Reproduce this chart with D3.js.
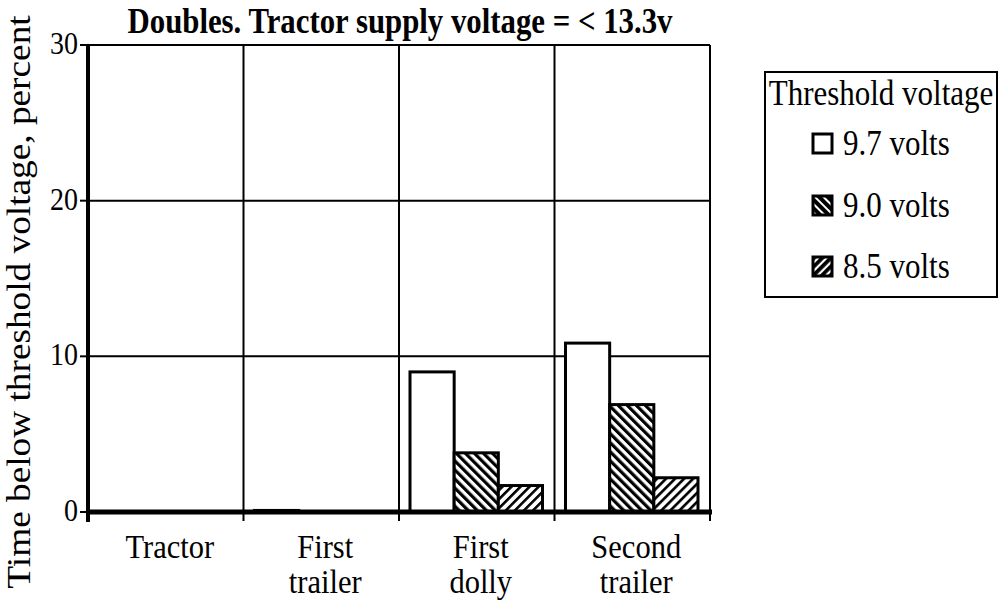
<!DOCTYPE html>
<html>
<head>
<meta charset="utf-8">
<script src="https://cdn.jsdelivr.net/npm/d3@7"></script>
<style>
  html, body { margin: 0; padding: 0; background: #fff; }
  svg { display: block; }
  text { font-family: "Liberation Serif", "Times New Roman", serif; fill: #000; }
</style>
</head>
<body>
<svg id="chart" width="1000" height="601"></svg>
<script>
// Time below threshold voltage (percent) by vehicle unit, doubles combination
const categories = ["Tractor", "First trailer", "First dolly", "Second trailer"];
const categoryLines = [["Tractor"], ["First", "trailer"], ["First", "dolly"], ["Second", "trailer"]];
const seriesNames = ["9.7 volts", "9.0 volts", "8.5 volts"];
const values97 = [0, 0.1, 9.0, 10.85];
const values90 = [0, 0, 3.8, 6.9];
const values85 = [0, 0, 1.7, 2.2];
const yTicks = [0, 10, 20, 30];
const titleText = "Doubles. Tractor supply voltage = < 13.3v";
const yTitle = "Time below threshold voltage, percent";
const legendTitle = "Threshold voltage";

const seriesValues = [values97, values90, values85];
const fills = ["#fff", "url(#hatchBack)", "url(#hatchFwd)"];
const legendFills = ["#fff", "url(#hatchBackDense)", "url(#hatchFwdDense)"];

const svg = d3.select("#chart");
const STRETCH = 1.13; // glyphs are drawn slightly taller than wide

// Hatch fills
const defs = svg.append("defs");
function hatch(id, angle, period, ink) {
  const p = defs.append("pattern")
    .attr("id", id)
    .attr("patternUnits", "userSpaceOnUse")
    .attr("width", period).attr("height", period)
    .attr("patternTransform", `rotate(${angle})`);
  p.append("rect").attr("width", period).attr("height", period).attr("fill", "#fff");
  p.append("rect").attr("x", 0).attr("y", 0).attr("width", ink).attr("height", period).attr("fill", "#000");
}
hatch("hatchBack", -45, 6.4, 3.2);
hatch("hatchFwd", 45, 6.4, 2.6);
hatch("hatchBackDense", -45, 6.0, 4.0);
hatch("hatchFwdDense", 45, 6.0, 3.8);

const plot = { left: 88, right: 710, top: 45, bottom: 512 };

const x0 = d3.scaleBand().domain(categories).range([plot.left, plot.right]).padding(0);
const x1 = d3.scaleBand().domain(seriesNames).range([11, x0.bandwidth() - 12]).padding(0);
const y = d3.scaleLinear().domain([0, 30]).range([plot.bottom, plot.top]);

// Grid: horizontal lines at tick values, vertical lines at category boundaries
const grid = svg.append("g");
grid.selectAll("line.h").data(yTicks.filter(d => d > 0)).join("line")
  .attr("x1", plot.left).attr("x2", plot.right)
  .attr("y1", d => y(d)).attr("y2", d => y(d))
  .attr("stroke", "#000").attr("stroke-width", 2);
grid.selectAll("line.v").data(categories).join("line")
  .attr("x1", d => x0(d) + x0.bandwidth()).attr("x2", d => x0(d) + x0.bandwidth())
  .attr("y1", plot.top).attr("y2", plot.bottom + 9)
  .attr("stroke", "#000").attr("stroke-width", 2);

// Bars
const rows = categories.map((c, i) => ({ cat: c, vals: seriesNames.map((s, j) => ({ s, j, v: seriesValues[j][i] })) }));
const groups = svg.append("g").selectAll("g").data(rows).join("g")
  .attr("transform", d => `translate(${x0(d.cat)},0)`);
groups.selectAll("rect").data(d => d.vals.filter(e => e.v > 0)).join("rect")
  .attr("x", d => x1(d.s))
  .attr("y", d => y(d.v))
  .attr("width", x1.bandwidth())
  .attr("height", d => y(0) - y(d.v))
  .attr("fill", d => fills[d.j])
  .attr("stroke", "#000").attr("stroke-width", 3);

// Y axis (thick) with ticks and labels
const yAxis = svg.append("g");
yAxis.append("line")
  .attr("x1", plot.left).attr("x2", plot.left)
  .attr("y1", plot.top - 1).attr("y2", plot.bottom + 10)
  .attr("stroke", "#000").attr("stroke-width", 4);
yAxis.selectAll("line.t").data(yTicks).join("line")
  .attr("x1", plot.left - 8).attr("x2", plot.left)
  .attr("y1", d => y(d)).attr("y2", d => y(d))
  .attr("stroke", "#000").attr("stroke-width", 2);
yAxis.selectAll("text").data(yTicks).join("text")
  .attr("transform", d => `translate(${plot.left - 10},${y(d) + 9}) scale(1,${STRETCH})`)
  .attr("text-anchor", "end")
  .attr("font-size", 28)
  .text(d => d);

// X axis baseline (thick)
svg.append("line")
  .attr("x1", plot.left - 2).attr("x2", plot.right + 2)
  .attr("y1", y(0)).attr("y2", y(0))
  .attr("stroke", "#000").attr("stroke-width", 5);

// Category labels
const xl = svg.append("g").selectAll("g").data(categories).join("g");
xl.each(function (c, i) {
  const g = d3.select(this);
  categoryLines[i].forEach((line, k) => {
    g.append("text")
      .attr("transform", `translate(${x0(c) + x0.bandwidth() / 2 + 4},${558 + k * 35}) scale(1,${STRETCH})`)
      .attr("text-anchor", "middle")
      .attr("font-size", 30.5)
      .text(line);
  });
});

// Title
svg.append("text")
  .attr("transform", `translate(400,33) scale(1,${STRETCH})`)
  .attr("text-anchor", "middle")
  .attr("font-size", 30.8)
  .attr("font-weight", "bold")
  .text(titleText);

// Y axis title
svg.append("text")
  .attr("transform", `translate(30,302) scale(1,${STRETCH}) rotate(-90)`)
  .attr("text-anchor", "middle")
  .attr("font-size", 33)
  .text(yTitle);

// Legend
const lg = svg.append("g");
lg.append("rect")
  .attr("x", 765).attr("y", 72).attr("width", 232).attr("height", 225)
  .attr("fill", "#fff").attr("stroke", "#000").attr("stroke-width", 2);
lg.append("text")
  .attr("transform", `translate(881,105) scale(1,${STRETCH})`)
  .attr("text-anchor", "middle")
  .attr("font-size", 31)
  .text(legendTitle);
const legendY = [134, 196, 257];
seriesNames.forEach((s, j) => {
  lg.append("rect")
    .attr("x", 813).attr("y", legendY[j]).attr("width", 19).attr("height", 19)
    .attr("fill", legendFills[j]).attr("stroke", "#000").attr("stroke-width", 3);
  lg.append("text")
    .attr("transform", `translate(843,${legendY[j] + 21}) scale(1,${STRETCH})`)
    .attr("font-size", 31)
    .text(s);
});
</script>
</body>
</html>
